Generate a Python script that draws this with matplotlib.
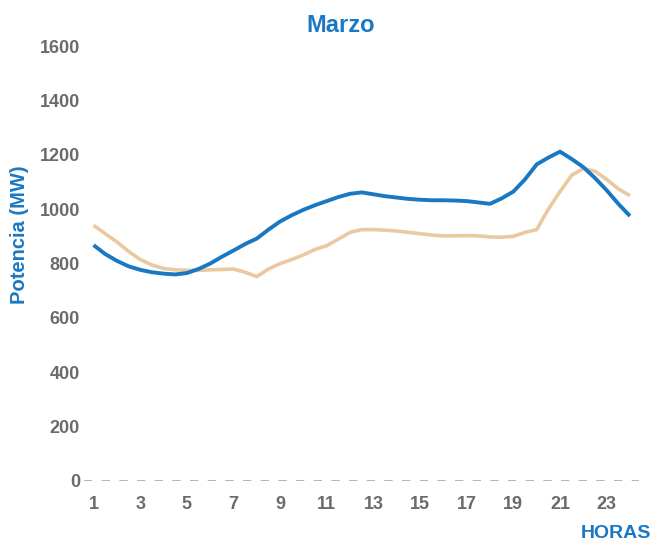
import matplotlib
matplotlib.use("Agg")
import matplotlib.pyplot as plt
import numpy as np

hours = np.arange(1, 24.01, 0.5)
serie_azul = [868, 835, 810, 790, 777, 768, 763, 760, 765, 780, 800, 825, 848, 872, 892,
              925, 955, 978, 998, 1015, 1030, 1045, 1057, 1062, 1055, 1048, 1043, 1038,
              1035, 1033, 1033, 1032, 1030, 1025, 1020, 1040, 1065, 1110, 1165, 1190,
              1212, 1185, 1155, 1115, 1070, 1020, 975]
serie_beige = [941, 910, 880, 845, 815, 795, 782, 777, 775, 775, 777, 778, 780, 768, 752,
               780, 800, 815, 832, 852, 866, 890, 915, 925, 925, 923, 920, 915, 910, 905,
               902, 902, 903, 902, 898, 897, 900, 915, 925, 1000, 1065, 1125, 1150, 1140,
               1110, 1075, 1050]
xticks = list(range(1, 24, 2))
yticks = list(range(0, 1601, 200))

plt.rcParams['font.family'] = ['Liberation Sans Narrow', 'Liberation Sans', 'DejaVu Sans']

fig = plt.figure(figsize=(6.53, 5.44), dpi=100)
ax = fig.add_axes([0.129, 0.116, 0.85, 0.799])

blue = '#1a78c2'
tan = '#ebc9a0'
grey = '#6b6b6b'

ax.plot(hours, serie_beige, color=tan, lw=2.6, solid_capstyle='butt')
ax.plot(hours, serie_azul, color=blue, lw=2.8, solid_capstyle='butt')
ax.axhline(0, color='#a8a8a8', lw=1.2, dashes=(5, 5.6))

ax.set_xlim(0.6, 24.4)
ax.set_ylim(0, 1600)
ax.set_xticks(xticks)
ax.set_yticks(yticks)
ax.tick_params(length=0, labelsize=13, labelcolor=grey)
ax.tick_params(axis='y', pad=3)
ax.tick_params(axis='x', pad=11)
for lab in ax.get_xticklabels() + ax.get_yticklabels():
    lab.set_fontweight('bold')
for s in ax.spines.values():
    s.set_visible(False)

fig.text(0.522, 0.953, 'Marzo', ha='center', va='center', color=blue, fontsize=17, fontweight='bold')
fig.text(0.03, 0.568, 'Potencia (MW)', ha='center', va='center', rotation=90,
         color=blue, fontsize=14.5, fontweight='bold')
fig.text(0.997, 0.004, 'HORAS', ha='right', va='bottom', color=blue, fontsize=14, fontweight='bold')

fig.savefig('out.png', dpi=100)
